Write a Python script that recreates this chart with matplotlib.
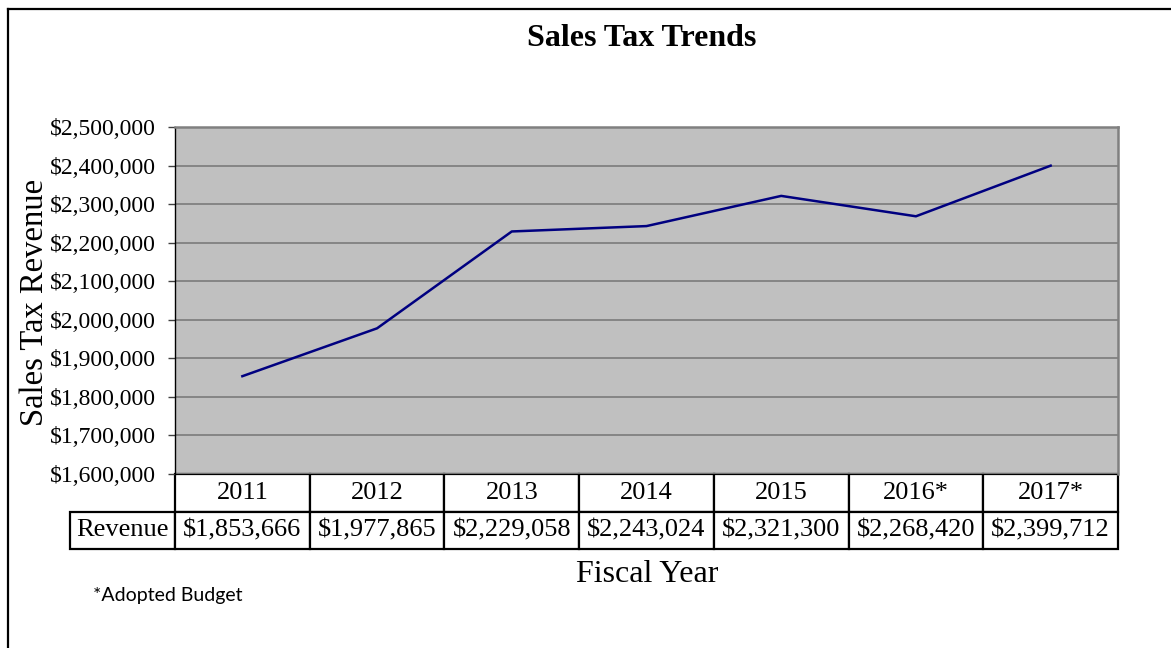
import matplotlib
matplotlib.use("Agg")
import matplotlib.pyplot as plt
from matplotlib.lines import Line2D
from matplotlib.ticker import FuncFormatter, MultipleLocator

# Sales tax revenue by fiscal year
years = ["2011", "2012", "2013", "2014", "2015", "2016*", "2017*"]
revenue = [1853666, 1977865, 2229058, 2243024, 2321300, 2268420, 2399712]
row_label = "Revenue"
y_min, y_max, y_step = 1600000, 2500000, 100000

W, H = 1171, 648
fig = plt.figure(figsize=(W / 100, H / 100), dpi=100)
fig.patch.set_facecolor("white")

SERIF = ["Liberation Serif", "DejaVu Serif"]

# outer frame (left and top edges visible)
fig.add_artist(Line2D([8 / W, 8 / W], [0, 1 - 9 / H], transform=fig.transFigure,
                      color="black", lw=1.6, solid_capstyle="projecting"))
fig.add_artist(Line2D([8 / W, 1], [1 - 9 / H, 1 - 9 / H], transform=fig.transFigure,
                      color="black", lw=1.6, solid_capstyle="projecting"))

# plot area
px_l, px_r, px_t, px_b = 175, 1118, 127, 474
ax = fig.add_axes([px_l / W, 1 - px_b / H, (px_r - px_l) / W, (px_b - px_t) / H])
ax.set_facecolor("#C0C0C0")

x = list(range(len(years)))
ax.plot(x, revenue, color="#000080", lw=1.8, zorder=3)

ax.set_xlim(-0.5, len(years) - 0.5)
ax.set_ylim(y_min, y_max)
ax.yaxis.set_major_locator(MultipleLocator(y_step))
ax.yaxis.set_major_formatter(FuncFormatter(lambda v, p: "${:,.0f}".format(v)))
ax.set_xticks([])
ax.grid(axis="y", color="#808080", lw=1.3, zorder=1)
ax.set_axisbelow(True)
ax.tick_params(axis="y", direction="out", length=5, width=1, color="#404040",
               labelsize=17, pad=8.5)
for lbl in ax.get_yticklabels():
    lbl.set_fontfamily(SERIF)

ax.spines["left"].set_color("black")
ax.spines["left"].set_linewidth(1.0)
for s in ("top", "right"):
    ax.spines[s].set_color("#808080")
    ax.spines[s].set_linewidth(1.8)
ax.spines["bottom"].set_visible(False)

# data table under the plot area
tbl_left = 70
tbl_bottom = 549
col_first = px_l - tbl_left
col_other = (px_r - px_l) / len(years)
cell_text = [[""] + years,
             [row_label] + ["${:,.0f}".format(v) for v in revenue]]
widths = [col_first] + [col_other] * len(years)
total_w = sum(widths)
tbl = ax.table(cellText=cell_text,
               colWidths=[w / total_w for w in widths],
               cellLoc="center",
               bbox=[(tbl_left - px_l) / (px_r - px_l), -(tbl_bottom - px_b) / (px_b - px_t),
                     (px_r - tbl_left) / (px_r - px_l), (tbl_bottom - px_b) / (px_b - px_t)])
tbl.auto_set_font_size(False)
for (r, c), cell in tbl.get_celld().items():
    cell.set_edgecolor("black")
    cell.set_linewidth(1.6)
    cell.set_facecolor("white")
    cell.get_text().set_fontsize(19)
    cell.get_text().set_fontfamily(SERIF)
    if r == 0 and c == 0:
        cell.visible_edges = ""
tbl[1, 0].get_text().set_ha("center")

# titles and labels
fig.text(642 / W, 1 - 38 / H, "Sales Tax Trends", ha="center", va="center",
         fontsize=23, fontweight="bold", family=SERIF)
fig.text(35 / W, 1 - 302 / H, "Sales Tax Revenue", ha="center", va="center",
         rotation=90, fontsize=23.5, family=SERIF)
fig.text(647 / W, 1 - 575 / H, "Fiscal Year", ha="center", va="center",
         fontsize=23, family=SERIF)
fig.text(93 / W, 1 - 595 / H, "*Adopted Budget", ha="left", va="center",
         fontsize=14, family=["Lato", "DejaVu Sans"])

fig.savefig("out.png", dpi=100, facecolor="white")
